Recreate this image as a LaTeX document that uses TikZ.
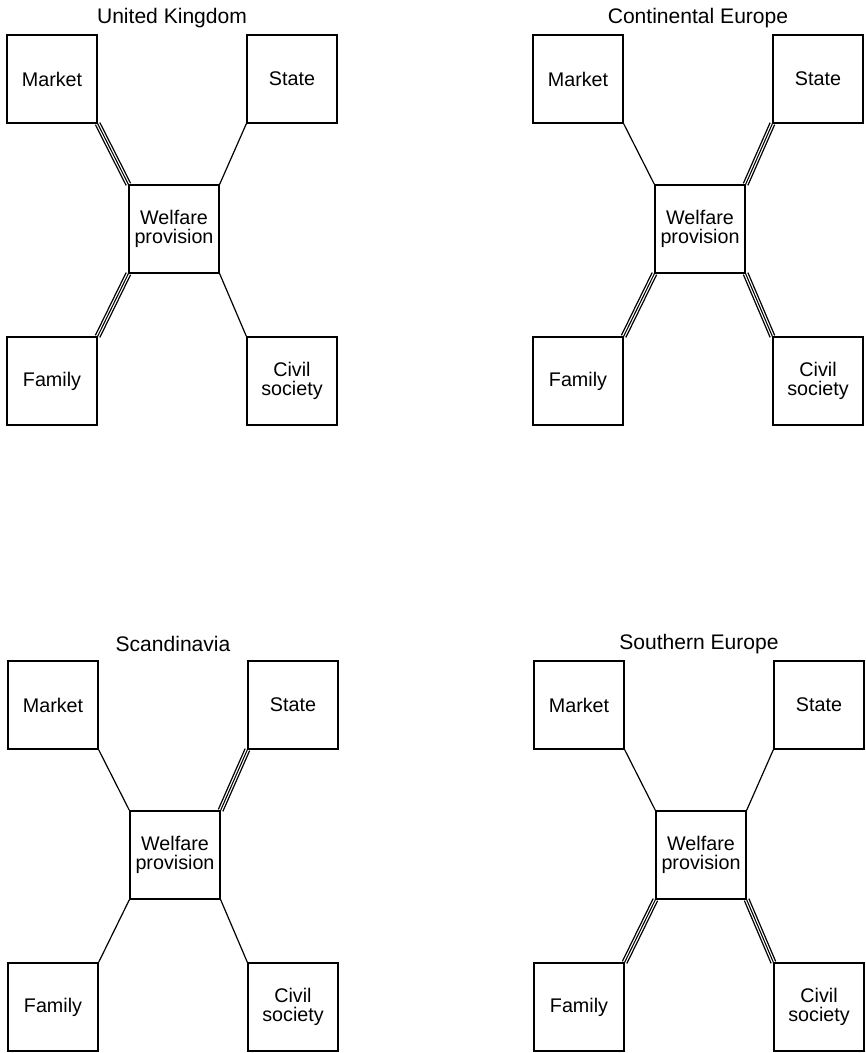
\documentclass[tikz,border=0pt]{standalone}
\usepackage{fontspec}
\setmainfont{Liberation Sans}
\usetikzlibrary{backgrounds}
\tikzset{
  box/.style={draw, line width=0.9pt, fill=white, minimum width=67.5pt, minimum height=66pt,
    inner sep=0pt, align=center, font=\fontsize{14.8}{13.8}\selectfont},
  paneltitle/.style={font=\fontsize{15.8}{18}\selectfont, inner sep=0pt},
  weak/.style={draw, line width=0.9pt},
  strong/.style={draw, line width=4.6pt,
    postaction={draw=white, line width=2.6pt},
    postaction={draw=black, line width=0.8pt}},
}
% #1 prefix, #2 dx, #3 dy, #4 title, #5 market, #6 state, #7 family, #8 civil
\newcommand\welfarepanel[8]{%
  \begin{scope}[shift={(#2,#3)}]
    \node[paneltitle] (#1-t) at (172,18) {#4};
    \node[box] (#1-m) at (52,79) {Market};
    \node[box] (#1-s) at (292,79) {State};
    \node[box] (#1-w) at (174,229) {Welfare\\provision};
    \node[box] (#1-f) at (52,381) {Family};
    \node[box] (#1-c) at (292,381) {Civil\\society};
    \begin{scope}[on background layer]
      \path[#5] (#1-m.south east) -- (#1-w.north west);
      \path[#6] (#1-s.south west) -- (#1-w.north east);
      \path[#7] (#1-f.north east) -- (#1-w.south west);
      \path[#8] (#1-c.north west) -- (#1-w.south east);
    \end{scope}
  \end{scope}%
}
\begin{document}
\begin{tikzpicture}[x=0.75pt, y=-0.75pt]
  \useasboundingbox (0,0) rectangle (866,1053);
  \welfarepanel{uk}{0}{0}{United Kingdom}{strong}{weak}{strong}{weak}
  \welfarepanel{ce}{526}{0}{Continental Europe}{weak}{strong}{strong}{strong}
  \welfarepanel{sc}{1}{626}{Scandinavia}{weak}{strong}{weak}{weak}
  \welfarepanel{se}{527}{626}{Southern Europe}{weak}{weak}{strong}{strong}
\end{tikzpicture}
\end{document}
